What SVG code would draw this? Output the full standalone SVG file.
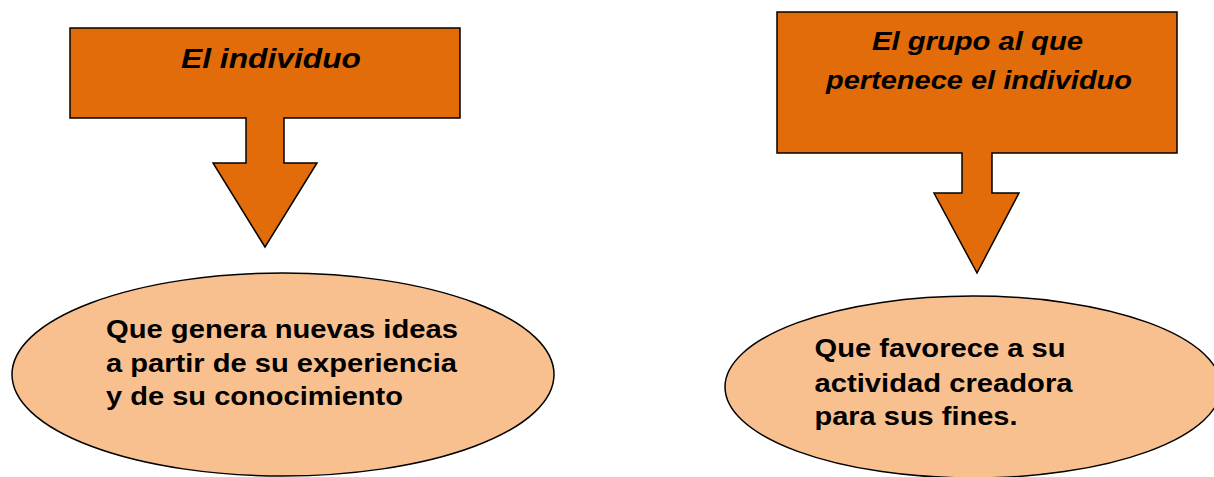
<svg xmlns="http://www.w3.org/2000/svg" width="1214" height="477" viewBox="0 0 1214 477">
  <style>
    .callout { fill: #E36C0A; stroke: #000; stroke-width: 1.5; stroke-linejoin: miter; }
    .oval { fill: #F9C08F; stroke: #000; stroke-width: 1.5; }
    .title { font-family: "Liberation Sans", Arial, sans-serif; font-weight: bold; font-style: italic; fill: #000; }
    .body { font-family: "Liberation Sans", Arial, sans-serif; font-weight: bold; font-size: 26.5px; fill: #000; }
  </style>
  <rect width="1214" height="477" fill="#FFFFFF"/>

  <g id="node-individuo">
    <path class="callout" d="M70,28 H460 V118 H284 V163 H317 L265,247 L213,163 H246 V118 H70 Z"/>
    <text class="title" x="181" y="67.5" font-size="28.5" textLength="180" lengthAdjust="spacingAndGlyphs">El individuo</text>
  </g>

  <g id="node-grupo">
    <path class="callout" d="M777,12 H1177 V153 H992 V193 H1019 L977,273 L934,193 H962 V153 H777 Z"/>
    <text class="title" x="872" y="49.5" font-size="26" textLength="211" lengthAdjust="spacingAndGlyphs">El grupo al que</text>
    <text class="title" x="826" y="88.5" font-size="26" textLength="306" lengthAdjust="spacingAndGlyphs">pertenece el individuo</text>
  </g>

  <g id="node-genera">
    <ellipse class="oval" cx="283" cy="374.5" rx="271" ry="101.5"/>
    <text class="body" x="106" y="337.5" textLength="352" lengthAdjust="spacingAndGlyphs">Que genera nuevas ideas</text>
    <text class="body" x="106" y="371.5" textLength="351" lengthAdjust="spacingAndGlyphs">a partir de su experiencia</text>
    <text class="body" x="106" y="404.5" textLength="297" lengthAdjust="spacingAndGlyphs">y de su conocimiento</text>
  </g>

  <g id="node-favorece">
    <ellipse class="oval" cx="973" cy="387" rx="248" ry="91"/>
    <text class="body" x="814.5" y="357" textLength="251" lengthAdjust="spacingAndGlyphs">Que favorece a su</text>
    <text class="body" x="814.5" y="391.5" textLength="258" lengthAdjust="spacingAndGlyphs">actividad creadora</text>
    <text class="body" x="814.5" y="424.5" textLength="203" lengthAdjust="spacingAndGlyphs">para sus fines.</text>
  </g>

  <g id="connectors"></g>
</svg>
